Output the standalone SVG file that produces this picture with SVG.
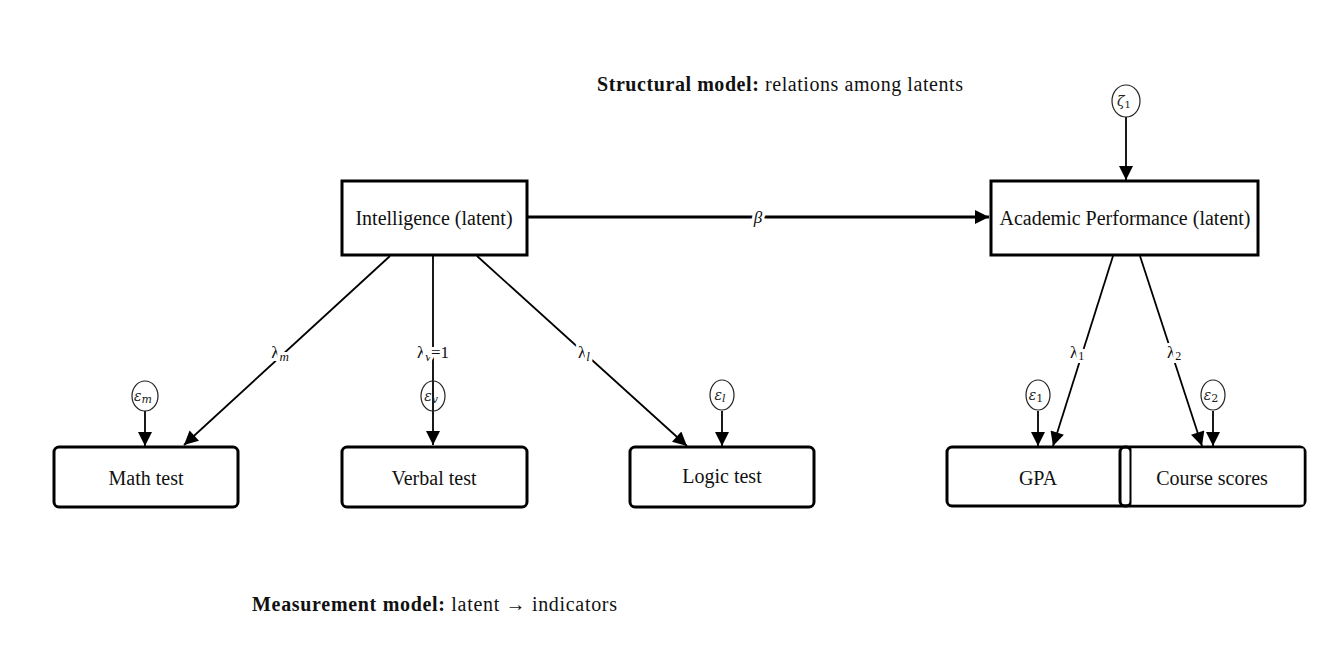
<svg xmlns="http://www.w3.org/2000/svg" width="1318" height="646" viewBox="0 0 1318 646">
<style>
.box{fill:#fff;stroke:#000;stroke-width:3}
.lat{fill:#fff;stroke:#000;stroke-width:3}
.t{font-family:"Liberation Serif","DejaVu Serif",serif;font-size:20px;fill:#111;text-anchor:middle;dominant-baseline:central}
.lbl{font-family:"Liberation Serif","DejaVu Serif",serif;font-size:17px;fill:#111;text-anchor:middle;dominant-baseline:central;paint-order:stroke;stroke:#fff;stroke-width:6px}
.e{fill:#fff;stroke:#222;stroke-width:1.2}
.el{font-family:"DejaVu Serif",serif;font-size:14px;font-style:italic;fill:#222;text-anchor:middle;dominant-baseline:central}
.ln{stroke:#000;stroke-width:1.8;fill:none}
.cap{font-family:"Liberation Serif","DejaVu Serif",serif;font-size:20px;fill:#111}
</style>
<defs>
<marker id="ahb" viewBox="0 0 10 10" refX="10" refY="5" markerWidth="16" markerHeight="14" markerUnits="userSpaceOnUse" orient="auto">
<path d="M0,0 L10,5 L0,10 z" fill="#000"/>
</marker>
</defs>

<g id="connectors">
<line x1="527" y1="217" x2="989" y2="217" stroke="#000" stroke-width="3" marker-end="url(#ahb)"/>
<line class="ln" x1="1126" y1="117" x2="1126" y2="180" marker-end="url(#ahb)"/>
<line class="ln" x1="390" y1="256" x2="184" y2="445" marker-end="url(#ahb)"/>
<line class="ln" x1="433" y1="256" x2="433" y2="445" marker-end="url(#ahb)"/>
<line class="ln" x1="477" y1="256" x2="687" y2="446" marker-end="url(#ahb)"/>
<line class="ln" x1="1113" y1="256" x2="1053" y2="446" marker-end="url(#ahb)"/>
<line class="ln" x1="1140" y1="256" x2="1202" y2="446" marker-end="url(#ahb)"/>
<line class="ln" x1="145" y1="411" x2="145" y2="446" marker-end="url(#ahb)"/>
<line class="ln" x1="722" y1="411" x2="722" y2="446" marker-end="url(#ahb)"/>
<line class="ln" x1="1038" y1="411" x2="1038" y2="446" marker-end="url(#ahb)"/>
<line class="ln" x1="1213" y1="411" x2="1213" y2="446" marker-end="url(#ahb)"/>
<text class="lbl" x="758" y="217" font-style="italic">β</text>
<text class="lbl" x="280" y="352">λ<tspan font-style="italic" font-size="13" dy="4">m</tspan></text>
<text class="lbl" x="433" y="352">λ<tspan font-style="italic" font-size="13" dy="4">v</tspan><tspan dy="-4">=1</tspan></text>
<text class="lbl" x="584" y="352">λ<tspan font-style="italic" font-size="13" dy="4">l</tspan></text>
<text class="lbl" x="1077" y="352">λ<tspan font-size="12" dy="4">1</tspan></text>
<text class="lbl" x="1174" y="352">λ<tspan font-size="12" dy="4">2</tspan></text>
</g>

<g id="caption-structural">
<text class="cap" x="597" y="91" textLength="366" lengthAdjust="spacing"><tspan font-weight="bold">Structural model:</tspan> relations among latents</text>
</g>
<g id="caption-measurement">
<text class="cap" x="252" y="611" textLength="365" lengthAdjust="spacing"><tspan font-weight="bold">Measurement model:</tspan> latent → indicators</text>
</g>

<g id="intelligence">
<rect class="lat" x="342" y="181" width="185" height="74"/>
<text class="t" x="434" y="218">Intelligence (latent)</text>
</g>
<g id="academic">
<rect class="lat" x="991" y="181" width="267" height="74"/>
<text class="t" x="1125" y="218">Academic Performance (latent)</text>
</g>
<g id="zeta1">
<ellipse class="e" cx="1126" cy="101" rx="14" ry="16"/>
<text class="el" x="1124" y="101">ζ<tspan font-style="normal" font-size="10" dy="3">1</tspan></text>
</g>

<g id="math">
<rect class="box" x="54" y="447" width="184" height="60" rx="5"/>
<text class="t" x="146" y="478">Math test</text>
</g>
<g id="verbal">
<rect class="box" x="342" y="447" width="185" height="60" rx="5"/>
<text class="t" x="434" y="478">Verbal test</text>
</g>
<g id="logic">
<rect class="box" x="630" y="447" width="184" height="60" rx="5"/>
<text class="t" x="722" y="476">Logic test</text>
</g>
<g id="gpa">
<rect class="box" x="947" y="447" width="184" height="59" rx="5"/>
<text class="t" x="1038" y="478">GPA</text>
</g>
<g id="course">
<rect class="box" x="1120" y="447" width="185" height="59" rx="5" style="fill:none"/>
<rect x="1131.5" y="448.5" width="172" height="56" fill="#fff"/>
<text class="t" x="1212" y="478">Course scores</text>
</g>

<g id="eps-m">
<ellipse class="e" cx="145" cy="396" rx="13" ry="15"/>
<text class="el" x="143" y="396">ε<tspan font-size="11" dy="3">m</tspan></text>
</g>
<g id="eps-v">
<ellipse class="e" cx="433" cy="396" rx="12" ry="15" style="fill:none"/>
<text class="el" x="431" y="396">ε<tspan font-size="11" dy="3">v</tspan></text>
</g>
<g id="eps-l">
<ellipse class="e" cx="722" cy="395" rx="12" ry="15"/>
<text class="el" x="720" y="395">ε<tspan font-size="11" dy="3">l</tspan></text>
</g>
<g id="eps-1">
<ellipse class="e" cx="1038" cy="395" rx="12" ry="15"/>
<text class="el" x="1036" y="395">ε<tspan font-style="normal" font-size="11" dy="3">1</tspan></text>
</g>
<g id="eps-2">
<ellipse class="e" cx="1213" cy="395" rx="12" ry="15"/>
<text class="el" x="1211" y="395">ε<tspan font-style="normal" font-size="11" dy="3">2</tspan></text>
</g>
</svg>
